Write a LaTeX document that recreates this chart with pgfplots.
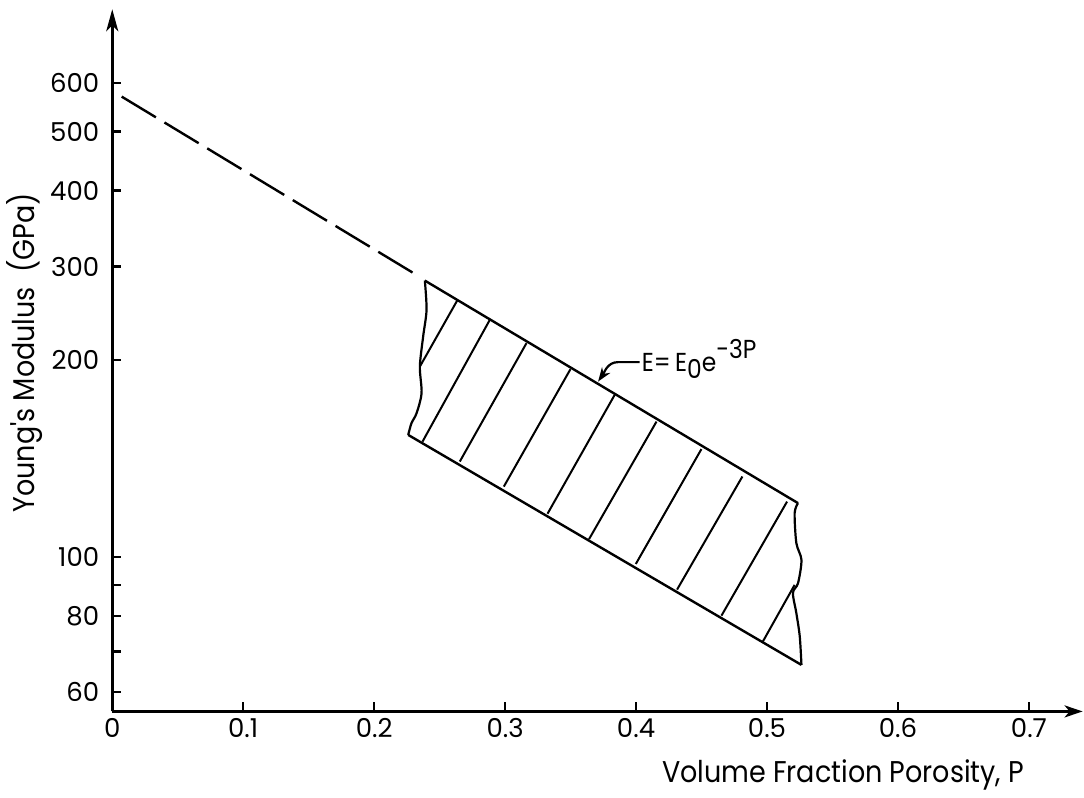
\documentclass[border=0pt]{standalone}
\usepackage{fontspec}
\setmainfont{Poppins}
\newfontfamily\labelfont[FakeStretch=0.9]{Poppins}
\usepackage{pgfplots}
\pgfplotsset{compat=1.18}
\usetikzlibrary{arrows.meta}

\begin{document}
\begin{tikzpicture}
\begin{axis}[
    scale only axis,
    width=485.35pt,
    height=351.2pt,
    ymode=log,
    xmin=0, xmax=0.741,
    ymin=55.77, ymax=794,
    axis lines=left,
    axis line style={line width=1.4pt},
    x axis line style={-{Stealth[length=9pt,width=6pt,inset=2.5pt]}},
    y axis line style={-{Stealth[length=11pt,width=6pt,inset=3pt]}},
    tick align=inside,
    major tick length=4.5pt,
    tick style={line width=1.2pt, black},
    xtick={0,0.1,0.2,0.3,0.4,0.5,0.6,0.7},
    xticklabels={0,0.1,0.2,0.3,0.4,0.5,0.6,0.7},
    % the 200 mark sits a little high in the original drawing
    ytick={60,70,80,90,100,210.8,300,400,500,600},
    yticklabels={60,,80,,100,200,300,400,500,600},
    yminorticks=false,
    /pgf/number format/assume math mode=true,
    ticklabel style={font=\fontsize{13}{13}\selectfont},
    yticklabel style={xshift=-3pt},
    xlabel={Volume Fraction Porosity, P},
    ylabel={Young's Modulus\ \ (GPa)},
    label style={font=\labelfont\fontsize{15}{15}\selectfont},
    xlabel style={at={(axis description cs:0.7531,0)}, anchor=base, yshift=-35.8pt},
    ylabel style={at={(axis description cs:-0.0899,0.5107)}, anchor=center},
    unbounded coords=jump,
    clip=false,
]
\coordinate (O) at (rel axis cs:0,0);

% dashed extrapolation to P = 0
\addplot[line width=1.2pt, dash pattern=on 20pt off 5pt] coordinates {(0.0072,570.5) (0.2324,290.6)};
% upper bound, E = E0 exp(-3P)
\addplot[line width=1.2pt] coordinates {(0.2387,284.5) (0.5237,122.6)};
% lower bound
\addplot[line width=1.2pt] coordinates {(0.2260,158.7) (0.5263,66.5)};
% wavy break lines at both ends of the band
\addplot[line width=1.1pt, smooth, tension=0.5] coordinates {
    (0.2387,284.5) (0.2400,254.7) (0.2374,230.2) (0.2349,205.5)
    (0.2362,185.9) (0.2324,172.3) (0.2285,165.9) (0.2260,158.7)};
\addplot[line width=1.1pt, smooth, tension=0.5] coordinates {
    (0.5237,122.6) (0.5211,118.1) (0.5224,105.4) (0.5263,98.9)
    (0.5237,90.6) (0.5198,87.3) (0.5224,80.9) (0.5250,74.1) (0.5263,66.5)};
% hatching
\addplot[line width=1pt] coordinates {
    (0.2349,205.5) (0.2634,263.8) (0.26,nan)
    (0.2369,154.7) (0.2883,245.2) (0.29,nan)
    (0.2654,143.5) (0.3163,224.5) (0.32,nan)
    (0.2990,130.5) (0.3499,203.5) (0.35,nan)
    (0.3324,117.8) (0.3837,184.7) (0.38,nan)
    (0.3641,107.0) (0.4156,166.9) (0.42,nan)
    (0.3998,97.4)  (0.4499,150.4) (0.45,nan)
    (0.4313,88.4)  (0.4812,135.6) (0.48,nan)
    (0.4652,80.1)  (0.5153,123.3) (0.52,nan)
    (0.4969,72.7)  (0.5211,90.0)};

% label for the upper bound
\draw[line width=1.1pt, -{Stealth[length=7pt,width=5pt]}]
    (axis cs:0.4028,209) -- (axis cs:0.3863,209) to[out=180,in=55] (axis cs:0.3710,194.2);
\node[anchor=base west, inner sep=0pt, font=\labelfont\fontsize{13}{13}\selectfont]
    at (axis cs:0.4041,201.6) {E=\,E\raisebox{-0.45ex}{0}e\raisebox{0.9ex}{-3P}};
\end{axis}
\path (O) ++(-56.15pt,-38.65pt) rectangle ++(542pt,394.5pt);
\end{tikzpicture}
\end{document}
